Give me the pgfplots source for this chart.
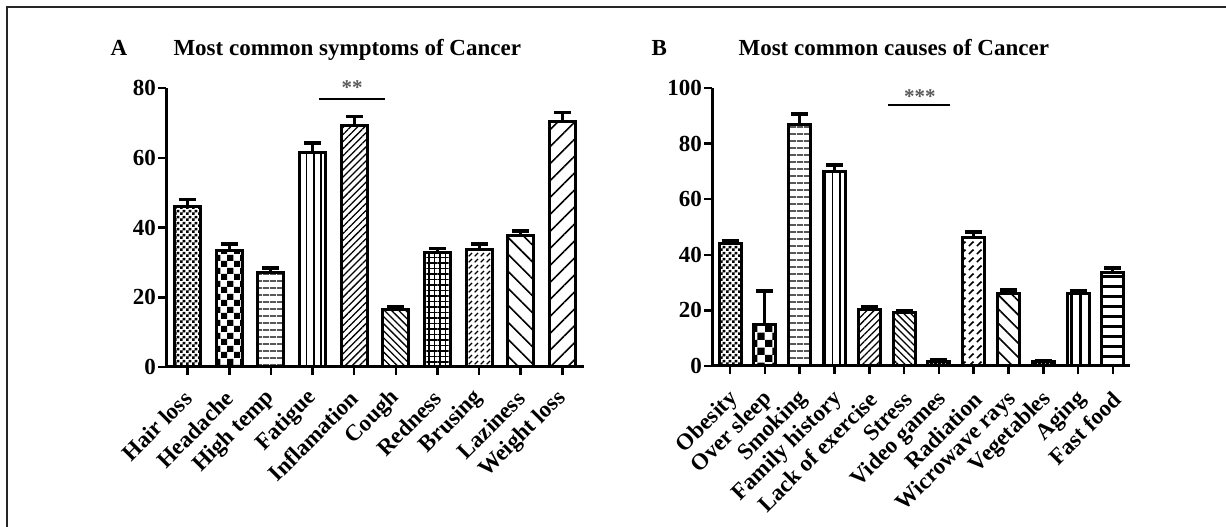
\documentclass[border=0pt]{standalone}
\usepackage{pgfplots}
\pgfplotsset{compat=1.18}
\usepackage{fontspec}
\setmainfont{Liberation Serif}
\usetikzlibrary{patterns,patterns.meta}

\pgfdeclarepatternformonly{checkfine}{\pgfpointorigin}{\pgfpoint{6pt}{6pt}}{\pgfpoint{6pt}{6pt}}{%
  \pgfpathrectangle{\pgfpointorigin}{\pgfpoint{3pt}{3pt}}%
  \pgfpathrectangle{\pgfpoint{3pt}{3pt}}{\pgfpoint{3pt}{3pt}}%
  \pgfusepath{fill}}
\pgfdeclarepatternformonly{checkbig}{\pgfpointorigin}{\pgfpoint{13pt}{13pt}}{\pgfpoint{13pt}{13pt}}{%
  \pgfpathrectangle{\pgfpointorigin}{\pgfpoint{6.5pt}{6.5pt}}%
  \pgfpathrectangle{\pgfpoint{6.5pt}{6.5pt}}{\pgfpoint{6.5pt}{6.5pt}}%
  \pgfusepath{fill}}
\pgfdeclarepatternformonly{checkbigB}{\pgfpointorigin}{\pgfpoint{15pt}{15pt}}{\pgfpoint{15pt}{15pt}}{%
  \pgfpathrectangle{\pgfpointorigin}{\pgfpoint{7.5pt}{7.5pt}}%
  \pgfpathrectangle{\pgfpoint{7.5pt}{7.5pt}}{\pgfpoint{7.5pt}{7.5pt}}%
  \pgfusepath{fill}}
\pgfdeclarepatternformonly{dashne}{\pgfpointorigin}{\pgfpoint{6pt}{6pt}}{\pgfpoint{6pt}{6pt}}{%
  \pgfsetlinewidth{1.4pt}%
  \pgfpathmoveto{\pgfpoint{0.8pt}{0.8pt}}\pgfpathlineto{\pgfpoint{4.6pt}{4.6pt}}%
  \pgfusepath{stroke}}
\pgfdeclarepatternformonly{dashneB}{\pgfpointorigin}{\pgfpoint{8pt}{8pt}}{\pgfpoint{8pt}{8pt}}{%
  \pgfsetlinewidth{1.8pt}%
  \pgfpathmoveto{\pgfpoint{1pt}{1pt}}\pgfpathlineto{\pgfpoint{6pt}{6pt}}%
  \pgfusepath{stroke}}

\newcommand{\tf}{\fontsize{23}{25}\selectfont\bfseries}

\pgfplotsset{
  panel/.style={
    scale only axis, anchor=south west,
    ymin=0,
    axis x line=bottom, axis y line=left,
    axis line style={line width=3pt,-},
    tick style={line width=2.5pt,black},
    major tick length=8pt,
    tick align=outside,
    xtick pos=bottom, ytick pos=left,
    ticklabel style={font=\tf},
    /pgf/number format/assume math mode=true,
    yticklabel style={inner sep=2pt},
    ybar, bar width=26pt,
    clip=false,
  },
  bb/.style={bar shift=0pt, draw=black, line width=3pt, fill=white,
    error bars/y dir=plus, error bars/y explicit,
    error bars/error bar style={line width=3pt, black},
    error bars/error mark options={rotate=90, mark size=8.5pt, line width=3.5pt, black}},
}

\begin{document}
\begin{tikzpicture}
\useasboundingbox (0,0) rectangle (1226pt,527pt);
\draw[line width=2pt, black!85] (7pt,0pt) -- (7pt,520pt) -- (1226pt,520pt);

\node[anchor=base west, font=\fontsize{23}{25}\selectfont\bfseries] at (107pt,471pt) {A};
\node[anchor=base west, font=\fontsize{23}{25}\selectfont\bfseries] at (170pt,471pt) {Most common symptoms of Cancer};
\node[anchor=base west, font=\fontsize{23}{25}\selectfont\bfseries] at (648pt,471pt) {B};
\node[anchor=base west, font=\fontsize{23}{25}\selectfont\bfseries] at (735pt,471pt) {Most common causes of Cancer};

\begin{axis}[panel, at={(166pt,160pt)}, width=418pt, height=279pt,
  xticklabel style={yshift=-19pt, xshift=1pt, rotate=45, anchor=east, inner sep=1pt},
  xmin=-0.52, xmax=9.52, ymax=80, ytick={0,20,40,60,80},
  xtick={0,...,9},
  xticklabels={Hair loss,Headache,High temp,Fatigue,Inflamation,Cough,Redness,Brusing,Laziness,Weight loss}]
\addplot[bb, postaction={pattern=checkfine}] coordinates {(0,46.1) +- (0,2.0)};
\addplot[bb, postaction={pattern=checkbig}] coordinates {(1,33.5) +- (0,1.7)};
\addplot[bb, postaction={pattern={Lines[angle=0,distance=6.5pt,line width=1.5pt]}}] coordinates {(2,27.2) +- (0,1.2)};
\addplot[bb, postaction={pattern={Lines[angle=90,distance=7.3pt,line width=1.5pt]}}] coordinates {(3,61.6) +- (0,2.6)};
\addplot[bb, postaction={pattern={Lines[angle=45,distance=5pt,line width=1.3pt]}}] coordinates {(4,69.3) +- (0,2.6)};
\addplot[bb, postaction={pattern={Lines[angle=-45,distance=5pt,line width=1.3pt]}}] coordinates {(5,16.6) +- (0,0.6)};
\addplot[bb, postaction={pattern={Hatch[angle=0,distance=5.5pt,line width=1.2pt]}}] coordinates {(6,32.7) +- (0,1.3)};
\addplot[bb, postaction={pattern=dashne}] coordinates {(7,33.8) +- (0,1.4)};
\addplot[bb, postaction={pattern={Lines[angle=-45,distance=12pt,line width=1.6pt]}}] coordinates {(8,37.8) +- (0,1.2)};
\addplot[bb, postaction={pattern={Lines[angle=45,distance=12pt,line width=1.6pt]}}] coordinates {(9,70.5) +- (0,2.5)};
\draw[line width=2pt] (axis cs:3.16,76.8) -- (axis cs:4.74,76.8);
\node[font=\fontsize{21}{21}\selectfont\bfseries, text=black!65] at (axis cs:3.95,80.0) {**};
\end{axis}

\begin{axis}[panel, at={(712pt,161pt)}, width=418pt, height=278pt, bar width=22pt,
  xticklabel style={yshift=-21pt, xshift=5pt, rotate=45, anchor=east, inner sep=1pt},
  xmin=-0.52, xmax=11.49, ymax=100, ytick={0,20,40,60,80,100},
  xtick={0,...,11},
  xticklabels={Obesity,Over sleep,Smoking,Family history,Lack of exercise,Stress,Video games,Radiation,Wicrowave rays,Vegetables,Aging,Fast food}]
\addplot[bb, postaction={pattern=checkfine}] coordinates {(0,43.9) +- (0,1.1)};
\addplot[bb, postaction={pattern=checkbigB}] coordinates {(1,15.1) +- (0,11.9)};
\addplot[bb, postaction={pattern={Lines[angle=0,distance=6.5pt,line width=1.5pt]}}] coordinates {(2,86.7) +- (0,3.9)};
\addplot[bb, postaction={pattern={Lines[angle=90,distance=7.5pt,line width=1.5pt]}}] coordinates {(3,69.8) +- (0,2.5)};
\addplot[bb, postaction={pattern={Lines[angle=45,distance=5pt,line width=1.3pt]}}] coordinates {(4,20.5) +- (0,0.8)};
\addplot[bb, postaction={pattern={Lines[angle=-45,distance=5pt,line width=1.3pt]}}] coordinates {(5,19.4) +- (0,0.6)};
\addplot[bb, postaction={pattern={Lines[angle=0,distance=4pt,line width=2pt]}}] coordinates {(6,1.6) +- (0,0.6)};
\addplot[bb, postaction={pattern=dashneB}] coordinates {(7,46.4) +- (0,1.8)};
\addplot[bb, postaction={pattern={Lines[angle=-45,distance=10pt,line width=1.6pt]}}] coordinates {(8,26.2) +- (0,1.1)};
\addplot[bb, postaction={pattern={Lines[angle=0,distance=4pt,line width=2pt]}}] coordinates {(9,1.5) +- (0,0.5)};
\addplot[bb, postaction={pattern={Lines[angle=90,distance=9pt,line width=3pt]}}] coordinates {(10,26.2) +- (0,1.0)};
\addplot[bb, postaction={pattern={Lines[angle=0,distance=10pt,line width=3pt]}}] coordinates {(11,33.8) +- (0,1.5)};
\draw[line width=2pt] (axis cs:4.54,93.9) -- (axis cs:6.32,93.9);
\node[font=\fontsize{21}{21}\selectfont\bfseries, text=black!65] at (axis cs:5.45,97.0) {***};
\end{axis}
\end{tikzpicture}
\end{document}
